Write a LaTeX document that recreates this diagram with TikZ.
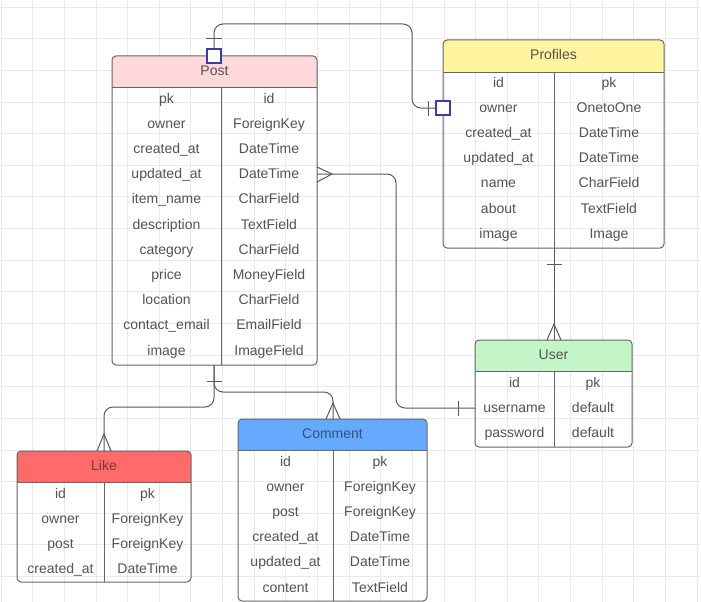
\documentclass[tikz,border=0pt]{standalone}
\usepackage{fontspec}
\setmainfont{Liberation Sans}
\usetikzlibrary{fit,calc}
\definecolor{gridc}{HTML}{EAEAEA}
\definecolor{bordc}{HTML}{666666}
\definecolor{linec}{HTML}{5A5A5A}
\definecolor{txtc}{HTML}{535353}
\definecolor{sqc}{HTML}{3C3CA0}
\definecolor{postc}{HTML}{FFD8DB}
\definecolor{profc}{HTML}{FFF5A0}
\definecolor{userc}{HTML}{C3F5C9}
\definecolor{likec}{HTML}{FF6A6A}
\definecolor{commc}{HTML}{66AAFF}
\newcommand\ertable[9]{%
  \begin{scope}
    \clip[rounded corners=4pt] (#2,#3) rectangle (#4,#5);
    \fill[#8] (#2,#3) rectangle (#4,#6);
  \end{scope}
  \node[fit={(#2,#3) (#4,#5)}, inner sep=0pt, outer sep=0pt, draw=bordc, line width=1pt, rounded corners=4pt] (#1) {};
  \draw[bordc, line width=1pt] (#2,#6) -- (#4,#6);
  \draw[bordc, line width=1pt] (#7,#6) -- (#7,#5);
  \node[celltxt, anchor=base] (#1-t) at ({(#2+#4)/2},{(#3+#6)/2+3.8}) {#9};
}
\newcommand\errows[5]{%
  \foreach \a/\b [count=\i] in {#5} {
    \node[celltxt, anchor=base] (#1-l\i) at ({#2},{#4+16+(\i-1)*25.2}) {\a};
    \node[celltxt, anchor=base] (#1-r\i) at ({#3},{#4+16+(\i-1)*25.2}) {\b};
  }%
}
\begin{document}
\begin{tikzpicture}[x=1pt,y=-1pt,
  celltxt/.style={inner sep=0pt, text=txtc, font=\fontsize{14}{16}\selectfont},
  conn/.style={draw=linec, line width=1pt},
  sqmark/.style={draw=sqc, fill=white, line width=1.3pt, minimum size=14pt, inner sep=0pt}]
\useasboundingbox (0,0) rectangle (701,602);
\fill[white] (0,0) rectangle (701,602);
\foreach \i in {0,...,22} \draw[gridc, line width=0.8pt] ({1+\i*31.64},0) -- ({1+\i*31.64},602);
\foreach \j in {0,...,18} \draw[gridc, line width=0.8pt] (0,{7+\j*31.64}) -- (701,{7+\j*31.64});

% tables
\ertable{post}{112}{56}{317}{365}{87}{221}{postc}{Post}
\errows{post}{166.5}{269}{87}{pk/id, owner/ForeignKey, created\_at/DateTime, updated\_at/DateTime, item\_name/CharField, description/TextField, category/CharField, price/MoneyField, location/CharField, contact\_email/EmailField, image/ImageField}

\ertable{prof}{443}{40}{664}{248}{72}{554}{profc}{Profiles}
\errows{prof}{498.5}{609}{71}{id/pk, owner/OnetoOne, created\_at/DateTime, updated\_at/DateTime, name/CharField, about/TextField, image/Image}

\ertable{user}{475}{340}{632}{447}{371}{554}{userc}{User}
\errows{user}{514.5}{593}{371}{id/pk, username/default, password/default}

\ertable{like}{17}{451}{191}{582}{482}{104}{likec}{\textcolor[HTML]{7A3A3A}{Like}}
\errows{like}{60.5}{147.5}{482}{id/pk, owner/ForeignKey, post/ForeignKey, created\_at/DateTime}

\ertable{comm}{238}{419}{427}{601}{450}{333}{commc}{\textcolor[HTML]{2E5282}{Comment}}
\errows{comm}{285.5}{380}{450}{id/pk, owner/ForeignKey, post/ForeignKey, created\_at/DateTime, updated\_at/DateTime, content/TextField}

% attachment points
\coordinate (post-n) at (214,56);
\coordinate (post-e) at (317,174);
\coordinate (post-s) at (214,365);
\coordinate (prof-w) at (443,108);
\coordinate (prof-s) at (554,248);
\coordinate (user-n) at (554,340);
\coordinate (user-w) at (475,408);
\coordinate (like-n) at (104,451);
\coordinate (comm-n) at (333,419);

% Post -- Profiles (one to one)
\draw[conn, rounded corners=9pt] (post-n) |- (412,24) |- (prof-w);
\draw[conn] ($(post-n)+(-8,-17)$) -- ++(16,0);
\draw[conn] ($(prof-w)+(-15,-7)$) -- ++(0,15);
\node[sqmark] (sqpost) at (post-n) {};
\node[sqmark] (sqprof) at (prof-w) {};

% Post -- User
\draw[conn, rounded corners=9pt] (post-e) -| (396,408) -- (user-w);
\draw[conn] ($(post-e)+(0,-7)$) -- ($(post-e)+(15,0)$) -- ($(post-e)+(0,8)$);
\draw[conn] ($(user-w)+(-17,-7)$) -- ++(0,15);

% Profiles -- User
\draw[conn] (prof-s) -- (user-n);
\draw[conn] ($(prof-s)+(-7.5,16)$) -- ++(15,0);
\draw[conn] ($(user-n)+(-7,0)$) -- ($(user-n)+(0,-16)$) -- ($(user-n)+(7,0)$);

% Post -- Like
\draw[conn, rounded corners=9pt] (post-s) |- (104,407) -- (like-n);
\draw[conn] ($(like-n)+(-7,0)$) -- ($(like-n)+(0,-17)$) -- ($(like-n)+(7,0)$);

% Post -- Comment
\draw[conn, rounded corners=9pt] (post-s) |- (333,392) -- (comm-n);
\draw[conn] ($(comm-n)+(-7,0)$) -- ($(comm-n)+(0,-16)$) -- ($(comm-n)+(7,0)$);
\draw[conn] ($(post-s)+(-7.5,16)$) -- ++(15,0);
\end{tikzpicture}
\end{document}
